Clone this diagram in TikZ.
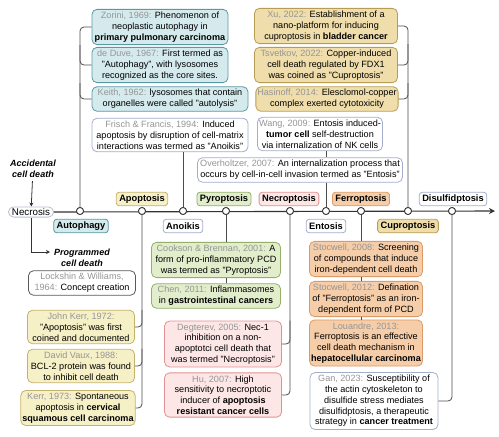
\documentclass[tikz,border=0pt]{standalone}
\usepackage{fontspec}
\setmainfont{Liberation Sans}
\usetikzlibrary{arrows.meta,positioning,calc}

\newcommand{\gy}[1]{\textcolor{zGry}{#1}}

\begin{document}
\begin{tikzpicture}[x=1pt, y=-1pt, font=\fontsize{9.1}{10.8}\selectfont,
  evt/.style={rounded corners=5pt, line width=0.8pt, align=center, inner xsep=1.5pt, inner ysep=2.6pt, minimum width=#1},
  tag/.style={rounded corners=3pt, line width=0.8pt, font=\fontsize{9.3}{10}\selectfont\bfseries, inner xsep=3pt, inner ysep=1.5pt, minimum height=13.5pt},
  dot/.style={circle, draw=black!80, fill=white, line width=0.8pt, inner sep=0pt, minimum size=7pt},
  conn/.style={draw=black!70, line width=0.8pt, rounded corners=4pt},
  note/.style={font=\fontsize{9}{10.6}\selectfont\bfseries\itshape, align=center},
  aut/.style={fill=zAutF, draw=zAutS},
  cup/.style={fill=zCupF, draw=zCupS},
  apo/.style={fill=zApoF, draw=zApoS},
  pyr/.style={fill=zPyrF, draw=zPyrS},
  nec/.style={fill=zNecF, draw=zNecS},
  fer/.style={fill=zFerF, draw=zFerS},
  wht/.style={fill=white, draw=zWhtS},
]
\definecolor{zGry}{HTML}{959595}
\definecolor{zAutF}{HTML}{D4EAED}\definecolor{zAutS}{HTML}{5A98A2}
\definecolor{zCupF}{HTML}{EFDEAB}\definecolor{zCupS}{HTML}{B89C54}
\definecolor{zApoF}{HTML}{F6F0C7}\definecolor{zApoS}{HTML}{C4B26A}
\definecolor{zPyrF}{HTML}{E2EDCC}\definecolor{zPyrS}{HTML}{93AF6A}
\definecolor{zNecF}{HTML}{FCE6E6}\definecolor{zNecS}{HTML}{E19193}
\definecolor{zFerF}{HTML}{F6CDA9}\definecolor{zFerS}{HTML}{DB9B68}
\definecolor{zWhtS}{HTML}{A3AECB}
\useasboundingbox (0,0) rectangle (499,437);
% ---- start ----
\node[evt=45pt, draw=zWhtS!80, fill=white, font=\fontsize{9.8}{10}\selectfont, inner ysep=1.5pt] (necrosis) at (31,212) {Necrosis};
\node[note] (accid) at (33,169) {Accidental\\cell death};
\node[note] (progr) at (82,258) {Programmed\\cell death};
\coordinate (progIn) at (50,252);
\coordinate (lineEnd) at (495,211);
\draw[-{Stealth[length=4pt,width=4pt]}, black!80, line width=0.8pt] (accid) -- (necrosis);
\draw[-{Stealth[length=4pt,width=4pt]}, black!80, line width=0.8pt] (necrosis.south) |- (progIn);
% ---- timeline ----
\draw[-{Stealth[length=6pt,width=6pt]}, black!80, line width=1.1pt] (necrosis.east) -- (lineEnd);
\node[dot] (cAut) at (80,211) {};
\node[dot] (cApo) at (142,211) {};
\node[dot] (cAno) at (183,211) {};
\node[dot] (cPyr) at (226,211) {};
\node[dot] (cNec) at (290,211) {};
\node[dot] (cEnt) at (326,211) {};
\node[dot] (cFer) at (361,211) {};
\node[dot] (cCup) at (408,211) {};
\node[dot] (cDis) at (452,211) {};
% tags
\node[tag, apo] (lApo) at ([yshift=12pt]cApo) {Apoptosis};
\node[tag, pyr] (lPyr) at ([yshift=12pt,xshift=-2pt]cPyr) {Pyroptosis};
\node[tag, nec] (lNec) at ([yshift=12pt,xshift=-1pt]cNec) {Necroptosis};
\node[tag, fer] (lFer) at ([yshift=12pt]cFer) {Ferroptosis};
\node[tag, wht] (lDis) at ([yshift=12pt,xshift=1pt]cDis) {Disulfidptosis};
\node[tag, aut] (lAut) at ([yshift=-15pt,xshift=1pt]cAut) {Autophagy};
\node[tag, wht] (lAno) at ([yshift=-15pt]cAno) {Anoikis};
\node[tag, wht] (lEnt) at ([yshift=-15pt]cEnt) {Entosis};
\node[tag, cup] (lCup) at ([yshift=-15pt]cCup) {Cuproptosis};
% ---- upper boxes ----
\node[evt=136pt, aut] (zorini) at (160,27) {\gy{Zorini, 1969:} Phenomenon of\\neoplastic autophagy in\\\textbf{primary pulmonary carcinoma}};
\node[evt=136pt, aut] (deduve) at (160,65) {\gy{de Duve, 1967:} First termed as\\"Autophagy", with lysosomes\\recognized as the core sites.};
\node[evt=156pt, aut] (keith) at (170,99) {\gy{Keith, 1962:} lysosomes that contain\\organelles were called "autolysis"};
\node[evt=156pt, wht] (frisch) at (170,135) {\gy{Frisch \& Francis, 1994:} Induced\\apoptosis by disruption of cell-matrix\\interactions was termed as "Anoikis"};
\node[evt=143pt, cup] (xu) at (326,26) {\gy{Xu, 2022:} Establishment of a\\nano-platform for inducing\\cuproptosis in \textbf{bladder cancer}};
\node[evt=143pt, cup] (tsvetkov) at (326,65) {\gy{Tsvetkov, 2022:} Copper-induced\\cell death regulated by FDX1\\was coined as "Cuproptosis"};
\node[evt=140pt, cup] (hasinoff) at (327,99) {\gy{Hasinoff, 2014:} Elesclomol-copper\\complex exerted cytotoxicity};
\node[evt=125pt, wht] (wang) at (320,134) {\gy{Wang, 2009:} Entosis induced-\\\textbf{tumor cell} self-destruction\\via internalization of NK cells};
\node[evt=205pt, wht] (overholtzer) at (300,170) {\gy{Overholtzer, 2007:} An internalization process that\\occurs by cell-in-cell invasion termed as "Entosis"};
% ---- lower boxes ----
\node[evt=107pt, draw=black!65, fill=white] (lockshin) at (82,283) {\gy{Lockshin \& Williams,}\\\gy{1964:} Concept creation};
\node[evt=107pt, apo] (johnkerr) at (81,327) {\gy{John Kerr, 1972:}\\"Apoptosis" was first\\coined and documented};
\node[evt=107pt, apo] (vaux) at (81,366) {\gy{David Vaux, 1988:}\\BCL-2 protein was found\\to inhibit cell death};
\node[evt=112pt, apo] (kerr) at (78,408) {\gy{Kerr, 1973:} Spontaneous\\apoptosis in \textbf{cervical}\\\textbf{squamous cell carcinoma}};
\node[evt=129pt, pyr] (cookson) at (216,260) {\gy{Cookson \& Brennan, 2001:} A\\form of pro-inflammatory PCD\\was termed as "Pyroptosis"};
\node[evt=129pt, pyr] (chen) at (216,296) {\gy{Chen, 2011:} Inflammasomes\\in \textbf{gastrointestinal cancers}};
\node[evt=117pt, nec] (degterev) at (223,344) {\gy{Degterev, 2005:} Nec-1\\inhibition on a non-\\apoptotci cell death that\\was termed "Necroptosis"};
\node[evt=117pt, nec] (hu) at (223,395) {\gy{Hu, 2007:} High\\sensitivity to necroptotic\\inducer of \textbf{apoptosis}\\\textbf{resistant cancer cells}};
\node[evt=113pt, fer] (stocA) at (366,259) {\gy{Stocwell, 2008:} Screening\\of compounds that induce\\iron-dependent cell death};
\node[evt=113pt, fer] (stocB) at (366,299) {\gy{Stocwell, 2012:} Defination\\of "Ferroptosis" as an iron-\\dependent form of PCD};
\node[evt=113pt, fer] (louandre) at (366,343) {\gy{Louandre, 2013:}\\Ferroptosis is an effective\\cell death mechanism in\\\textbf{hepatocellular carcinoma}};
\node[evt=128pt, wht] (gan) at (374,401) {\gy{Gan, 2023:} Susceptibility of\\the actin cytoskeleton to\\disulfide stress mediates\\disulfidptosis, a therapeutic\\strategy in \textbf{cancer treatment}};
% ---- connectors ----
\draw[conn] (cAut) |- (zorini.west);
\draw[conn] (cAut |- zorini.south) |- (deduve.west);
\draw[conn] (cAut |- deduve.south) |- (keith.west);
\draw[conn] (cAno |- frisch.south) -- (cAno);
\draw[conn] (cCup) |- (xu.east);
\draw[conn] (cCup |- xu.south) |- (tsvetkov.east);
\draw[conn] (cCup |- tsvetkov.south) |- (hasinoff.east);
\draw[conn] (cEnt |- wang.south) -- (cEnt |- overholtzer.north);
\draw[conn] (cEnt |- overholtzer.south) -- (cEnt);
\draw[conn] (cApo) |- (kerr.east);
\draw[conn] (cApo |- johnkerr.north) |- (johnkerr.east);
\draw[conn] (cApo |- vaux.north) |- (vaux.east);
\draw[conn] (cPyr) -- (cPyr |- cookson.north);
\draw[conn] (cPyr |- cookson.south) -- (cPyr |- chen.north);
\draw[conn] (cNec) |- (hu.east);
\draw[conn] (cNec |- degterev.north) |- (degterev.east);
\draw[conn] (cFer) -- (cFer |- stocA.north);
\draw[conn] (cFer |- stocA.south) -- (cFer |- stocB.north);
\draw[conn] (cFer |- stocB.south) -- (cFer |- louandre.north);
\draw[conn] (cDis) |- (gan.east);
% dots on top
\foreach \d in {cAut,cApo,cAno,cPyr,cNec,cEnt,cFer,cCup,cDis}
  \node[dot] at (\d) {};
\end{tikzpicture}
\end{document}
